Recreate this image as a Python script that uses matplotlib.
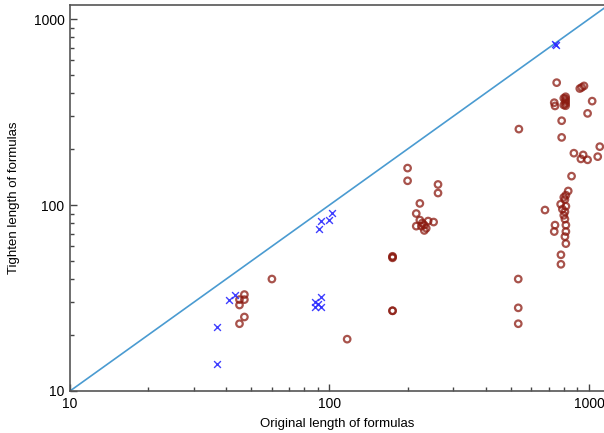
import matplotlib
matplotlib.use("Agg")
import matplotlib.pyplot as plt
from matplotlib.ticker import LogLocator, NullFormatter, FixedLocator, FixedFormatter

plt.rcParams['font.family'] = ['Liberation Sans', 'DejaVu Sans']

# Blue crosses (original, tighten)
blue_x = [37, 37, 41, 43.3, 92.5, 88, 88, 92.5, 90, 102, 93, 100, 91, 745, 740]
blue_y = [14, 22, 31, 33, 32, 30, 28.3, 28.3, 29.4, 91, 82, 83, 74, 728, 735]

# Red circles (original, tighten)
red_x = [60, 47, 45, 47, 45, 47, 45, 117, 175, 175, 175, 175, 175,
         200, 200, 262, 262, 223, 216, 223, 228, 232, 236, 226, 240, 216, 252, 232,
         751, 938, 957, 922, 813, 813, 813, 813, 813, 800, 800, 735, 740, 1029, 988,
         785, 537, 785, 1101, 875, 950, 931, 988, 1081, 857,
         832, 815, 808, 778, 815, 808, 677, 808, 815, 740, 735, 815, 808, 815,
         780, 780, 534, 534, 534, 800, 790, 800]
red_y = [40, 33, 31, 31, 29, 25, 23, 19, 52, 53, 52.5, 27, 27,
         158, 135, 129, 116, 102, 90, 83, 80, 78, 75, 77, 82, 77, 81, 73,
         455, 429, 437, 423, 382, 372, 362, 352, 342, 375, 345, 355, 341, 362, 311,
         284, 256, 231, 206, 190, 186, 177, 175, 182, 143,
         119, 113, 107, 101, 98.5, 92, 94, 84, 78, 78, 72, 72, 67.6, 62,
         54, 48, 40, 28, 23, 110, 95, 88]

diag = [10, 1300]

fig = plt.figure(figsize=(6.04, 4.33), dpi=100)
ax = fig.add_axes([70/604, 1-391/433, 1-70/604, (391-5)/433])
ax.set_xscale('log')
ax.set_yscale('log')

ax.plot(diag, diag, color='#4a9bd1', lw=1.2, zorder=1)
ax.scatter(red_x, red_y, s=22, facecolors='none', edgecolors='#8b1a10',
           linewidths=1.6, alpha=0.75, zorder=2)
ax.scatter(blue_x, blue_y, s=24, marker='x', color='#2b2bff',
           linewidths=1.0, alpha=0.9, zorder=3)

ax.set_xlim(10, 1143)
ax.set_ylim(10, 1190)

for s in ['left', 'bottom', 'top']:
    ax.spines[s].set_color('#555555')
    ax.spines[s].set_linewidth(1.2)
ax.spines['right'].set_visible(False)

ax.xaxis.set_major_locator(FixedLocator([10, 100, 1000]))
ax.xaxis.set_major_formatter(FixedFormatter(['10', '100', '1000']))
ax.yaxis.set_major_locator(FixedLocator([10, 100, 1000]))
ax.yaxis.set_major_formatter(FixedFormatter(['10', '100', '1000']))
ax.xaxis.set_minor_locator(LogLocator(base=10, subs=range(2, 10)))
ax.yaxis.set_minor_locator(LogLocator(base=10, subs=range(2, 10)))
ax.xaxis.set_minor_formatter(NullFormatter())
ax.yaxis.set_minor_formatter(NullFormatter())
ax.tick_params(which='both', direction='in', color='#444444', labelsize=10, width=1)
ax.tick_params(which='major', length=5, pad=4)
ax.tick_params(which='minor', length=3)

ax.set_xlabel('Original length of formulas', fontsize=9.5, labelpad=5)
ax.set_ylabel('Tighten length of formulas', fontsize=9.5)
ax.yaxis.set_label_coords(-50/534, 0.5)

fig.savefig('out.png', dpi=100)
